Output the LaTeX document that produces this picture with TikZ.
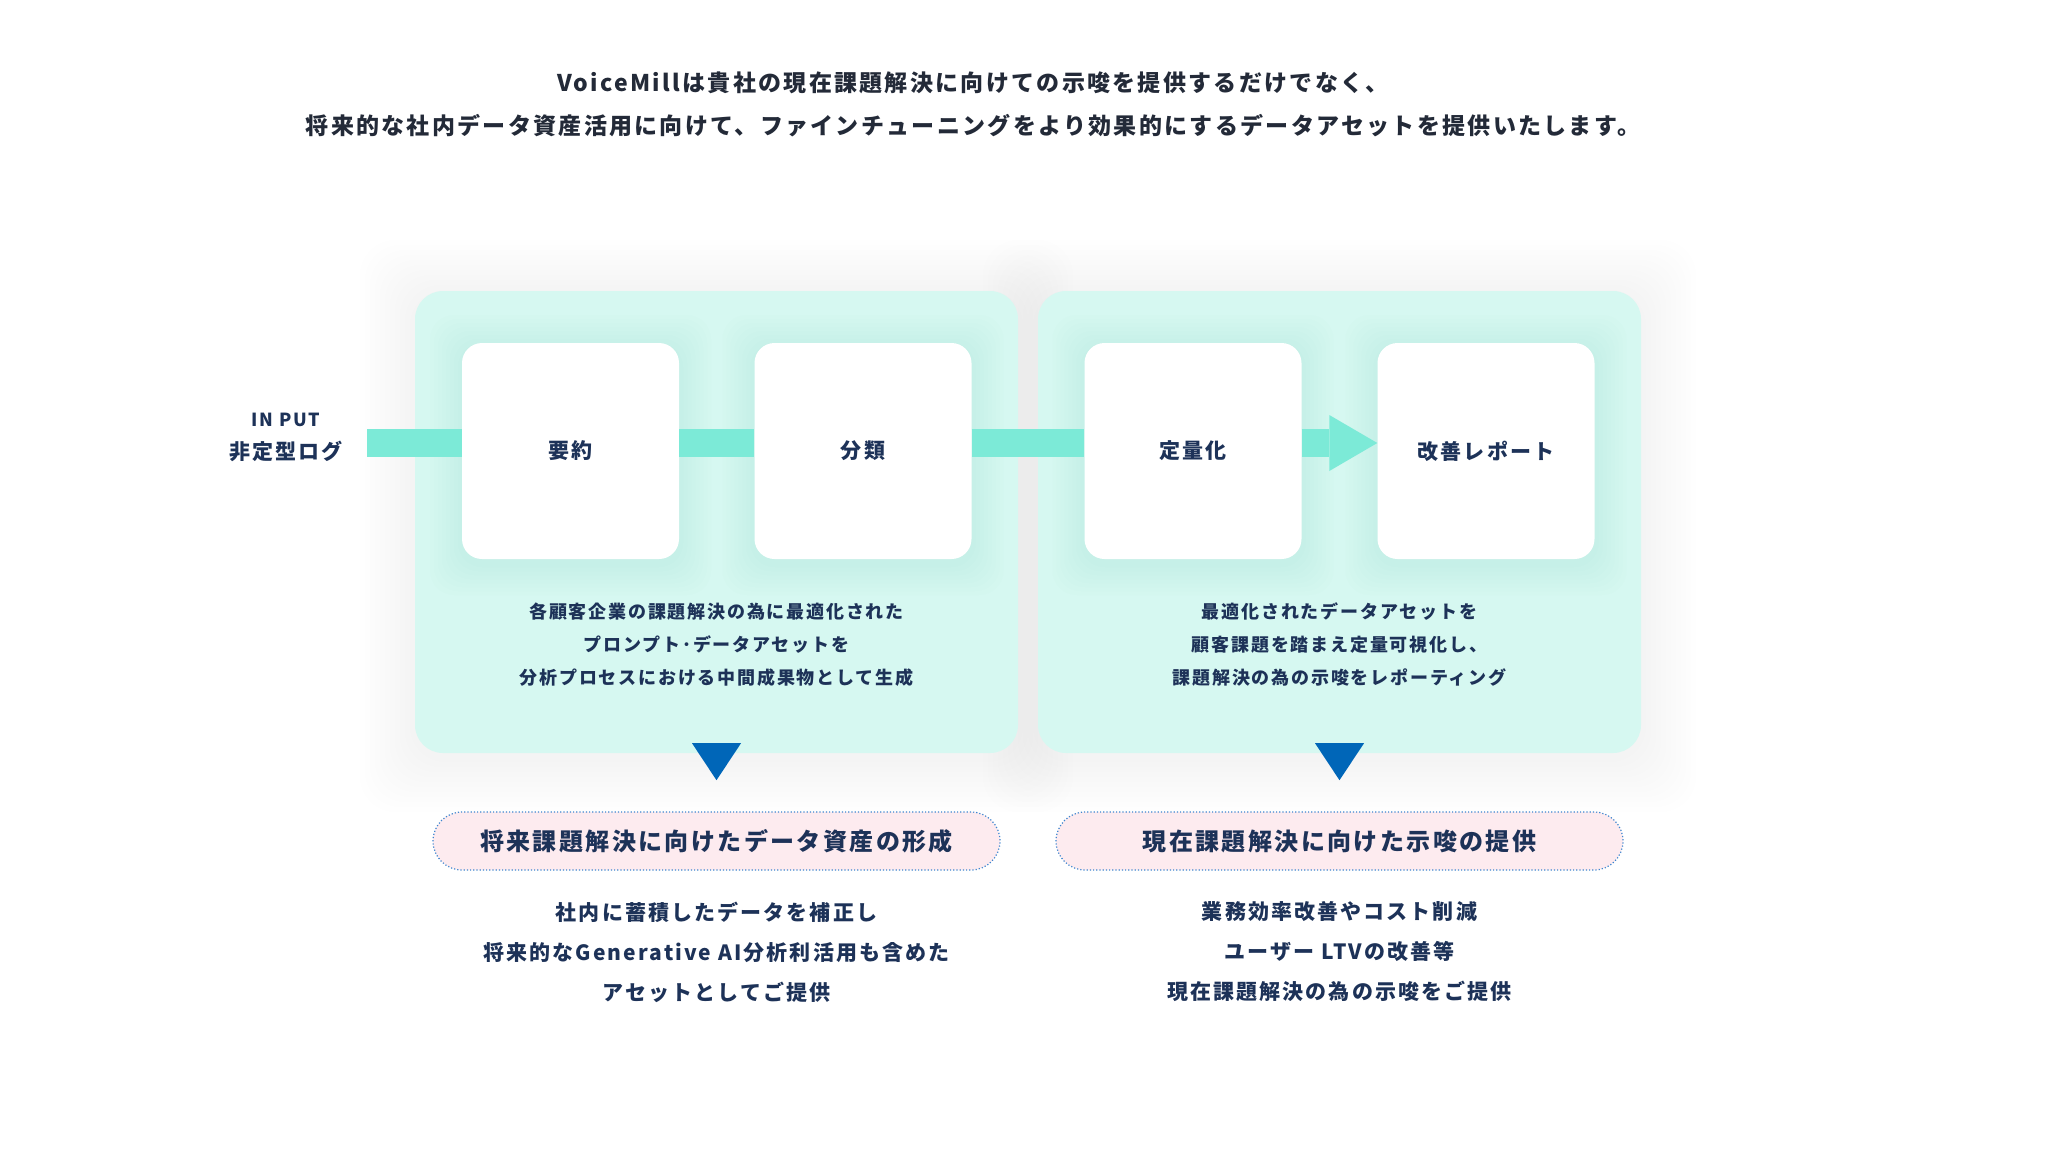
\documentclass[tikz,border=0pt]{standalone}
\usepackage{fontspec}
\setmainfont{Noto Sans CJK JP}[LetterSpace=10]
\usetikzlibrary{arrows.meta, backgrounds}

\definecolor{navy}{HTML}{1D3258}
\definecolor{leadc}{HTML}{232A38}
\definecolor{mintc}{HTML}{D6F8F1}
\definecolor{shadec}{HTML}{6FBFB0}
\definecolor{bandc}{HTML}{7CEAD7}
\definecolor{pinkc}{HTML}{FDEBEF}
\definecolor{dotc}{HTML}{3F86D0}
\definecolor{triblue}{HTML}{0066B8}

\begin{document}
\begin{tikzpicture}[
  x=1pt, y=-1pt,
  panel/.style = {fill=mintc, rounded corners=28pt, minimum width=603pt, minimum height=462pt, inner sep=0pt},
  card/.style = {fill=white, rounded corners=20pt, minimum width=217pt, minimum height=216pt, inner sep=0pt,
                 text=navy, font=\fontsize{21}{25}\selectfont\bfseries},
  band/.style = {draw=bandc, line width=28pt},
  pill/.style = {fill=pinkc, draw=dotc, dotted, line width=1.2pt, rounded corners=29pt,
                 minimum width=567pt, minimum height=58pt, text=navy, font=\fontsize{24}{28}\selectfont\bfseries},
  lead/.style = {text=leadc, align=center, font=\fontsize{23}{43}\selectfont\bfseries},
  desc/.style = {text=navy, align=center, font=\fontsize{18}{33}\selectfont\bfseries},
  note/.style = {text=navy, align=center, font=\fontsize{21}{40}\selectfont\bfseries},
  tri/.style = {fill=triblue}
  ]
  \useasboundingbox (0,0) rectangle (2068,1163);

  \node[lead] (lead) at (973,104) {VoiceMillは貴社の現在課題解決に向けての示唆を提供するだけでなく、\\
    将来的な社内データ資産活用に向けて、ファインチューニングをより効果的にするデータアセットを提供いたします。};

  % two panels
  \node[panel] (lpanel) at (716.5,522) {};
  \node[panel] (rpanel) at (1339.5,522) {};

  \begin{scope}[on background layer]
    \fill[white] (0,0) rectangle (2068,1163);
    \foreach \p in {lpanel,rpanel}
      \foreach \g in {5,10,...,55}
        \fill[black, opacity=.003, rounded corners=36pt]
          ([shift={(-\g,-\g+4)}]\p.north west) rectangle ([shift={(\g,\g+4)}]\p.south east);
  \end{scope}

  % soft shade under the cards
  \foreach \cx in {570.5,863,1193,1486}
    \foreach \g in {4,8,...,32}
      \fill[shadec, opacity=.016, rounded corners=24pt]
        (\cx-108.5-\g,343-\g+4) rectangle (\cx+108.5+\g,559+\g+4);

  % cards
  \node[card] (youyaku) at (570.5,451) {要約};
  \node[card] (bunrui) at (863,451) {分類};
  \node[card] (teiryo) at (1193,451) {定量化};
  \node[card] (kaizen) at (1486,451) {改善レポート};

  % input
  \node[text=navy, font=\fontsize{18}{20}\selectfont\bfseries] (inp) at (286,420) {IN PUT};
  \node[text=navy, font=\fontsize{21}{25}\selectfont\bfseries] (log) at (286,451) {非定型ログ};
  \coordinate (src) at (367,443);

  \draw[band] (src) -- ([yshift=8pt]youyaku.west);
  \draw[band] ([yshift=8pt]youyaku.east) -- ([yshift=8pt]bunrui.west);
  \draw[band] ([yshift=8pt]bunrui.east) -- ([yshift=8pt]teiryo.west);
  \draw[band, -{Triangle[length=48pt, width=56pt, line width=0pt]}]
    ([yshift=8pt]teiryo.east) -- ([yshift=8pt]kaizen.west);

  % texts in the panels
  \node[desc] (ldesc) at (716.5,645) {各顧客企業の課題解決の為に最適化された\\
    プロンプト･データアセットを\\分析プロセスにおける中間成果物として生成};
  \node[desc] (rdesc) at (1339.5,645) {最適化されたデータアセットを\\
    顧客課題を踏まえ定量可視化し、\\課題解決の為の示唆をレポーティング};

  % markers under the panels
  \foreach \p in {lpanel,rpanel}
    \fill[tri] ([shift={(-24.5,-10)}]\p.south) -- ([shift={(24.5,-10)}]\p.south)
      -- ([shift={(0,27)}]\p.south) -- cycle;

  \node[pill] (future) at (716.5,841) {将来課題解決に向けたデータ資産の形成};
  \node[pill] (now) at (1339.5,841) {現在課題解決に向けた示唆の提供};

  \node[note] (lnote) at (716.5,952) {社内に蓄積したデータを補正し\\
    将来的なGenerative AI分析利活用も含めた\\アセットとしてご提供};
  \node[note] (rnote) at (1339.5,952) {業務効率改善やコスト削減\\
    ユーザー LTVの改善等\\現在課題解決の為の示唆をご提供};
\end{tikzpicture}
\end{document}
